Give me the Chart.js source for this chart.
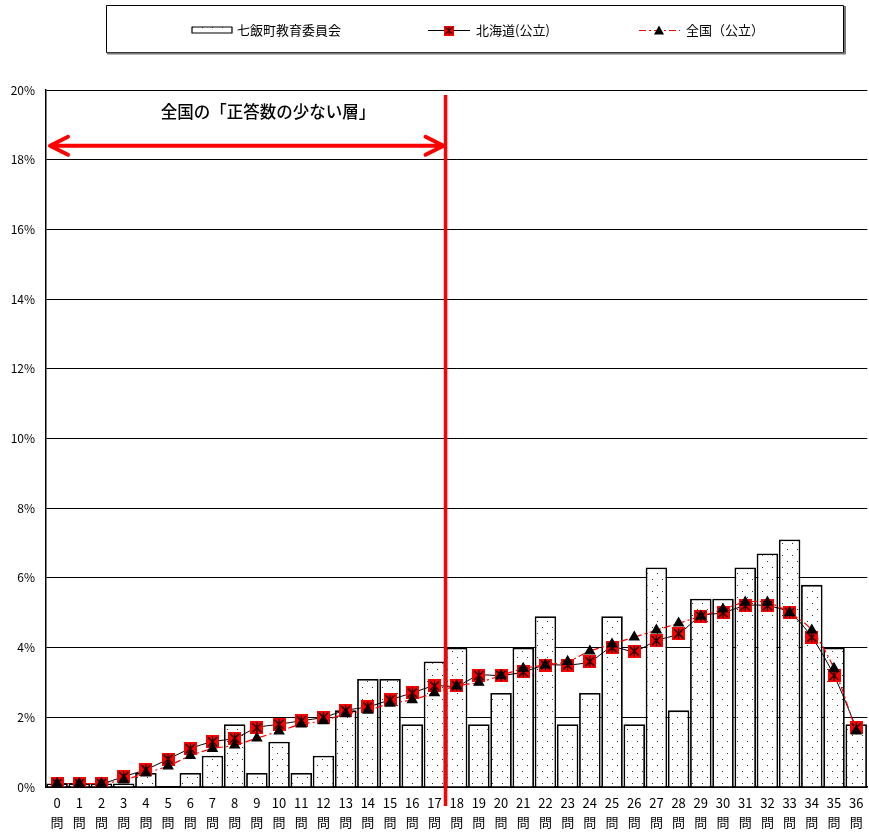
<!DOCTYPE html>
<html>
<head>
<meta charset="utf-8">
<script src="https://cdn.jsdelivr.net/npm/chart.js@4/dist/chart.umd.min.js"></script>
<style>
  html, body { margin: 0; padding: 0; background: #fff; overflow: hidden; }
  #wrap { width: 874px; height: 832px; }
</style>
</head>
<body>
<div id="wrap"><canvas id="chart" width="874" height="832"></canvas></div>
<script>
const questions = ['0','1','2','3','4','5','6','7','8','9','10','11','12','13','14','15','16','17','18',
  '19','20','21','22','23','24','25','26','27','28','29','30','31','32','33','34','35','36'];
const nanaeValues = [0.1,0.1,0.1,0.1,0.4,0,0.4,0.9,1.8,0.4,1.3,0.4,0.9,2.2,3.1,3.1,1.8,3.6,4.0,
  1.8,2.7,4.0,4.9,1.8,2.7,4.9,1.8,6.3,2.2,5.4,5.4,6.3,6.7,7.1,5.8,4.0,1.8];
const hokkaidoValues = [0.1,0.1,0.1,0.3,0.5,0.8,1.1,1.3,1.4,1.7,1.8,1.9,2.0,2.2,2.3,2.5,2.7,2.9,2.9,
  3.2,3.2,3.3,3.5,3.5,3.6,4.0,3.9,4.2,4.4,4.9,5.0,5.2,5.2,5.0,4.3,3.2,1.7];
const zenkokuValues = [0.1,0.1,0.1,0.2,0.4,0.6,0.9,1.1,1.2,1.4,1.6,1.8,1.9,2.1,2.2,2.4,2.5,2.7,2.9,
  3.0,3.2,3.4,3.5,3.6,3.9,4.1,4.3,4.5,4.7,4.9,5.1,5.3,5.3,5.0,4.5,3.4,1.6];
const seriesNames = ['七飯町教育委員会', '北海道(公立)', '全国（公立）'];
const bandLabel = '全国の「正答数の少ない層」';

const canvas = document.getElementById('chart');
const ctx = canvas.getContext('2d');
const JP = '"Noto Sans CJK JP", "Noto Sans", sans-serif';

// dotted fill for the bars
function dotPattern() {
    const c = document.createElement('canvas');
    c.width = 10; c.height = 12;
    const g = c.getContext('2d');
    g.fillStyle = '#fff';
    g.fillRect(0, 0, 10, 12);
    g.fillStyle = '#333';
    g.fillRect(2, 3, 1, 1);
    g.fillRect(7, 9, 1, 1);
    return ctx.createPattern(c, 'repeat');
}

// red square marker with black cross
function squareMarker() {
    const c = document.createElement('canvas');
    c.width = 13; c.height = 13;
    const g = c.getContext('2d');
    g.fillStyle = '#ff0000';
    g.fillRect(0, 0, 13, 13);
    g.strokeStyle = '#000';
    g.lineWidth = 1.2;
    g.beginPath();
    g.moveTo(2, 2); g.lineTo(11, 11);
    g.moveTo(11, 2); g.lineTo(2, 11);
    g.moveTo(6.5, 1); g.lineTo(6.5, 12);
    g.stroke();
    return c;
}

const dots = dotPattern();
const marker = squareMarker();

const overlay = {
    id: 'overlay',
    afterDraw(chart) {
        const c = chart.ctx;
        const x = chart.scales.x, y = chart.scales.y;
        const bx = (x.getPixelForValue(17) + x.getPixelForValue(18)) / 2;
        c.save();

        // vertical boundary line
        c.strokeStyle = '#ff0000';
        c.lineWidth = 3.5;
        c.beginPath();
        c.moveTo(bx, 95);
        c.lineTo(bx, 806);
        c.stroke();

        // double arrow
        const ay = y.getPixelForValue(18.4);
        const ax0 = 50, ax1 = bx - 2;
        c.lineWidth = 4;
        c.lineCap = 'round';
        c.lineJoin = 'round';
        c.beginPath();
        c.moveTo(ax0, ay); c.lineTo(ax1, ay);
        c.moveTo(ax0 + 18, ay - 9); c.lineTo(ax0, ay); c.lineTo(ax0 + 18, ay + 9);
        c.moveTo(ax1 - 18, ay - 9); c.lineTo(ax1, ay); c.lineTo(ax1 - 18, ay + 9);
        c.stroke();

        c.fillStyle = '#000';
        c.font = '500 16.5px ' + JP;
        c.textAlign = 'center';
        c.textBaseline = 'middle';
        c.fillText(bandLabel, 268, 112);

        // legend box
        c.lineCap = 'butt';
        c.strokeStyle = '#000';
        c.lineWidth = 1;
        c.strokeRect(106.5, 5.5, 737, 47);
        c.strokeStyle = '#777';
        c.lineWidth = 2;
        c.beginPath();
        c.moveTo(107, 53.5); c.lineTo(845, 53.5); c.lineTo(845, 6);
        c.stroke();

        const ly = 30.5;
        c.font = '13px ' + JP;
        c.textAlign = 'left';

        c.fillStyle = dots;
        c.fillRect(192, 27, 40, 6);
        c.strokeStyle = '#000';
        c.lineWidth = 1.2;
        c.strokeRect(192, 27, 40, 6);
        c.fillStyle = '#000';
        c.fillText(seriesNames[0], 237, ly);

        c.lineWidth = 1;
        c.beginPath();
        c.moveTo(428, ly); c.lineTo(470, ly);
        c.stroke();
        c.drawImage(marker, 444, ly - 5, 10, 10);
        c.fillText(seriesNames[1], 476, ly);

        c.strokeStyle = '#ff0000';
        c.setLineDash([7, 3, 2, 3]);
        c.beginPath();
        c.moveTo(639, ly); c.lineTo(680, ly);
        c.stroke();
        c.setLineDash([]);
        c.fillStyle = '#000';
        c.beginPath();
        c.moveTo(659, ly - 5); c.lineTo(664, ly + 4); c.lineTo(654, ly + 4);
        c.closePath();
        c.fill();
        c.fillText(seriesNames[2], 686, ly);

        c.restore();
    }
};

new Chart(ctx, {
    data: {
        labels: questions.map(q => [q, '問']),
        datasets: [{
            type: 'bar',
            label: seriesNames[0],
            data: nanaeValues,
            backgroundColor: dots,
            borderColor: '#000',
            borderWidth: 1.8,
            barPercentage: 0.97,
            categoryPercentage: 1,
            order: 3
        }, {
            type: 'line',
            label: seriesNames[1],
            data: hokkaidoValues,
            borderColor: '#000',
            borderWidth: 1,
            pointStyle: marker,
            tension: 0.3,
            order: 2
        }, {
            type: 'line',
            label: seriesNames[2],
            data: zenkokuValues,
            borderColor: '#ff0000',
            borderWidth: 1.2,
            borderDash: [7, 3, 2, 3],
            pointStyle: 'triangle',
            pointRadius: 5.5,
            pointBackgroundColor: '#000',
            pointBorderColor: '#000',
            tension: 0.3,
            order: 1
        }]
    },
    options: {
        responsive: false,
        animation: false,
        layout: { padding: { top: 90, right: 0, left: 0, bottom: 0 } },
        plugins: {
            legend: { display: false },
            tooltip: { enabled: false }
        },
        scales: {
            x: {
                offset: true,
                grid: { display: false, drawTicks: false },
                border: { color: '#000', width: 1.5 },
                ticks: {
                    color: '#000',
                    padding: 6,
                    maxRotation: 0,
                    autoSkip: false,
                    font: { family: JP, size: 13, lineHeight: 1.5 }
                },
                afterFit: s => { s.height = 45; }
            },
            y: {
                min: 0,
                max: 20,
                grid: { color: '#000', lineWidth: 1, drawTicks: false },
                border: { color: '#000', width: 1.5 },
                ticks: {
                    stepSize: 2,
                    color: '#000',
                    padding: 11,
                    font: { family: JP, size: 12 },
                    callback: v => v + '%'
                },
                afterFit: s => { s.width = 46; }
            }
        }
    },
    plugins: [overlay]
});
</script>
</body>
</html>
